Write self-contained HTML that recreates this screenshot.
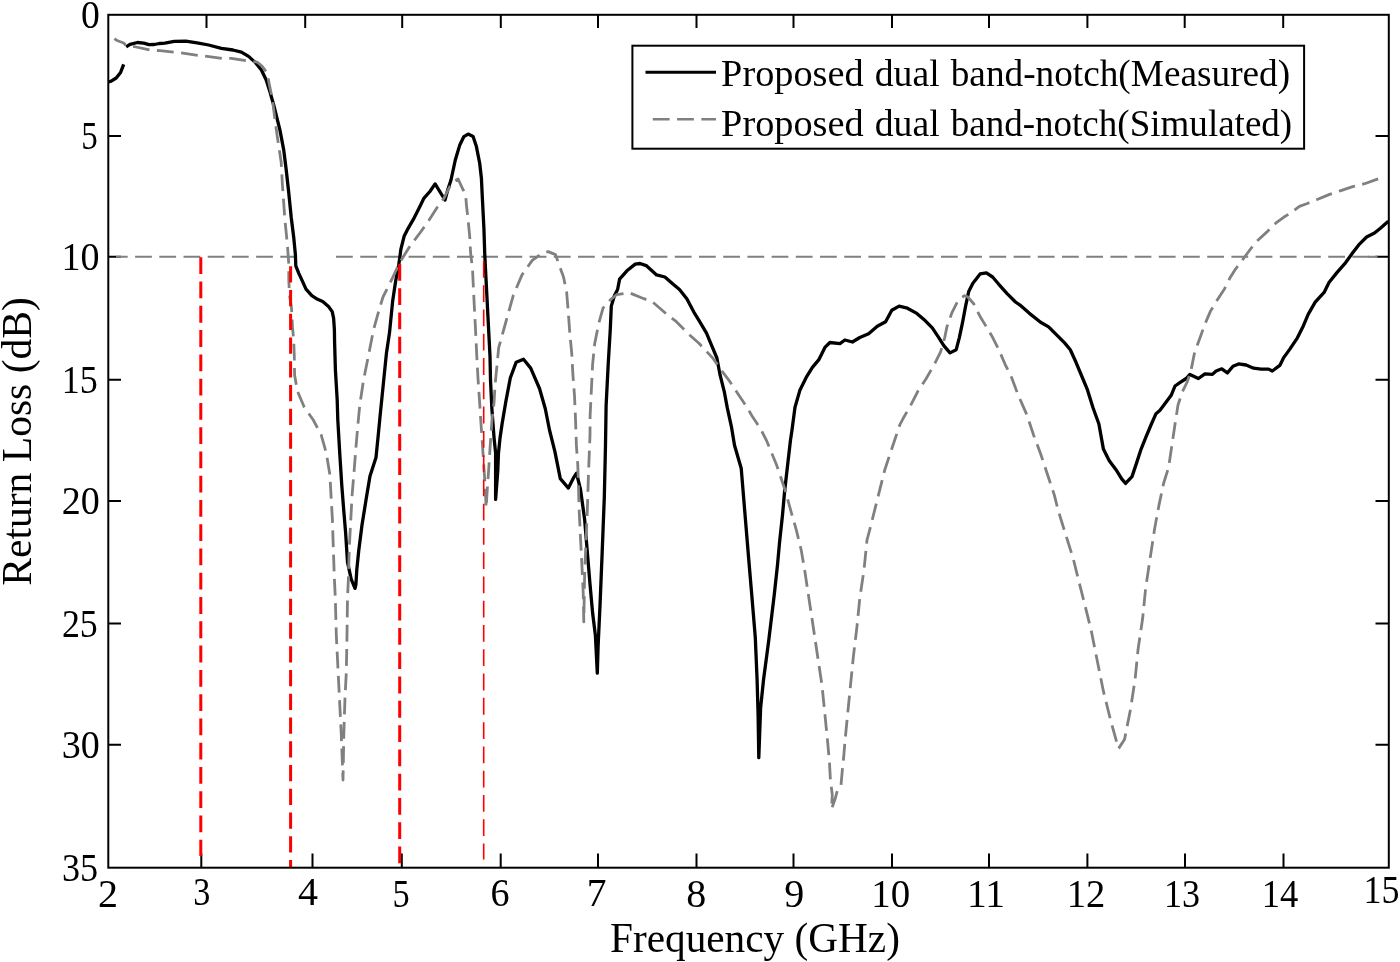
<!DOCTYPE html>
<html><head><meta charset="utf-8"><title>Return Loss vs Frequency</title>
<style>html,body{margin:0;padding:0;background:#fff;width:1400px;height:962px;overflow:hidden}svg{display:block;will-change:transform}text{font-family:"Liberation Serif",serif}</style>
</head><body>
<svg width="1400" height="962" viewBox="0 0 1400 962">
<rect x="0" y="0" width="1400" height="962" fill="#fff"/>
<path d="M201.3 867.7V853.5 M312.5 867.7V853.5 M401.8 867.7V853.5 M500.7 867.7V853.5 M598 867.7V853.5 M696.5 867.7V853.5 M793.5 867.7V853.5 M892 867.7V853.5 M989 867.7V853.5 M1087.4 867.7V853.5 M1185 867.7V853.5 M1283.5 867.7V853.5 M206.5 14.8V28 M305.2 14.8V28 M402.2 14.8V28 M500.8 14.8V28 M598 14.8V28 M696.5 14.8V28 M793.5 14.8V28 M892 14.8V28 M989 14.8V28 M1087.4 14.8V28 M1184.7 14.8V28 M1283.2 14.8V28 M108.3 135.9H121 M1388.8 135.9H1375.5 M108.3 256.8H121 M1388.8 256.8H1375.5 M108.3 379.7H121 M1388.8 379.7H1375.5 M108.3 500.9H121 M1388.8 500.9H1375.5 M108.3 623.4H121 M1388.8 623.4H1375.5 M108.3 744.7H121 M1388.8 744.7H1375.5" stroke="#000" stroke-width="2" fill="none"/>
<path d="M116 256.8H296" stroke="#808080" stroke-width="2.1" stroke-dasharray="16.8 7.4" stroke-dashoffset="5.1" fill="none"/>
<path d="M336 256.8H1377.4" stroke="#808080" stroke-width="2.1" stroke-dasharray="16.8 7.4" fill="none"/>
<path d="M1368 256.8H1377.4" stroke="#808080" stroke-width="2.1" fill="none"/>
<path d="M108.5 82.0 L111.2 81.2 L116.2 78.0 L120.6 72.4 L123.7 64.3" stroke="#000" stroke-width="3.3" fill="none" stroke-linejoin="round"/>
<path d="M126.2 46.8 L130.0 44.3 L137.4 42.5 L143.7 43.1 L149.0 44.6 L154.3 44.5 L159.3 43.5 L164.9 43.1 L174.3 41.4 L185.7 41.1 L197.1 42.9 L208.6 45.0 L221.4 48.3 L232.9 50.0 L241.4 52.1 L248.6 56.4 L255.7 62.9 L261.4 70.0 L266.2 80.0 L270.0 92.0 L273.7 105.0 L279.9 129.9 L283.7 149.9 L286.2 169.8 L288.7 192.3 L291.2 217.2 L293.7 237.2 L295.4 254.7 L295.8 265.8 L298.7 273.1 L302.4 281.1 L306.0 289.1 L311.8 295.6 L317.6 299.3 L322.7 301.5 L328.5 306.5 L332.2 311.6 L333.6 318.2 L334.4 329.8 L334.6 342.4 L335.4 369.8 L337.2 400.0 L337.8 420.0 L340.0 457.4 L341.8 485.5 L343.7 509.8 L345.6 532.3 L347.5 562.2 L351.2 579.1 L355.0 588.4 L355.9 584.7 L356.8 569.7 L358.7 551.0 L362.0 525.0 L366.0 500.0 L370.0 476.0 L376.0 457.5 L378.1 436.7 L380.1 415.9 L382.2 395.1 L384.3 374.3 L386.4 353.6 L389.5 332.8 L392.6 301.6 L395.7 280.8 L398.6 266.0 L400.0 256.0 L400.8 249.6 L404.1 236.3 L407.4 229.7 L413.2 219.7 L419.9 206.4 L424.0 198.1 L429.9 191.5 L435.1 183.9 L445.0 200.0 L448.0 189.0 L451.0 180.0 L455.3 160.0 L459.8 144.9 L463.9 136.6 L468.1 134.1 L473.1 136.6 L476.4 146.6 L479.7 163.2 L481.4 178.2 L482.2 194.8 L483.9 228.0 L484.7 253.0 L485.5 269.0 L487.0 298.2 L488.5 327.3 L490.0 356.4 L490.5 380.0 L491.9 409.1 L494.1 438.3 L495.6 452.8 L495.6 499.4 L497.8 470.3 L498.5 452.8 L500.0 438.3 L502.1 423.7 L505.8 401.8 L510.3 378.0 L516.2 362.2 L523.5 359.3 L530.7 368.1 L539.5 388.5 L545.3 408.8 L549.5 430.0 L554.9 451.6 L560.3 478.6 L568.4 488.1 L573.8 477.3 L576.5 473.2 L580.5 489.5 L584.6 519.2 L587.3 551.6 L590.0 584.1 L592.7 613.8 L595.4 635.4 L597.3 673.2 L598.1 646.2 L600.0 605.7 L602.2 551.6 L604.3 497.6 L605.5 445.0 L606.1 405.9 L608.2 364.3 L610.3 329.0 L611.3 306.1 L614.4 295.7 L617.6 289.5 L619.6 279.1 L626.9 270.8 L635.2 264.1 L640.0 263.5 L646.2 265.6 L656.6 274.9 L664.9 277.0 L673.2 284.3 L679.5 289.5 L686.8 298.8 L694.0 312.3 L700.3 322.7 L706.5 333.1 L711.7 345.6 L716.9 358.0 L720.0 374.7 L724.2 391.3 L727.3 407.9 L731.4 426.6 L734.5 445.3 L741.2 468.2 L744.7 510.6 L748.2 553.0 L751.8 595.3 L755.3 637.6 L757.1 680.0 L758.1 715.3 L758.8 757.6 L760.6 708.2 L763.5 680.0 L768.8 640.0 L774.3 594.4 L777.5 565.0 L779.5 542.9 L782.5 515.0 L784.6 491.5 L787.5 466.0 L790.5 440.0 L792.0 430.0 L795.0 407.3 L800.0 389.9 L806.2 377.4 L812.4 367.4 L818.7 359.9 L824.9 347.4 L829.9 342.5 L839.9 343.7 L844.9 340.0 L852.4 342.0 L859.8 337.5 L868.6 333.7 L877.3 326.2 L885.6 321.7 L891.8 310.3 L899.1 306.1 L907.4 308.2 L916.8 313.4 L925.1 320.6 L932.3 327.9 L938.6 337.3 L943.8 345.6 L950.0 352.9 L956.2 349.7 L959.4 337.3 L962.5 322.7 L965.6 306.1 L968.7 291.6 L972.9 283.2 L980.1 273.9 L986.4 272.9 L992.6 277.0 L998.8 284.3 L1007.1 293.6 L1015.5 302.0 L1020.0 305.1 L1029.1 313.1 L1040.6 322.3 L1048.6 326.9 L1056.6 334.9 L1064.6 342.9 L1070.3 349.7 L1076.0 362.3 L1081.7 376.0 L1087.4 389.7 L1093.1 408.0 L1098.9 424.0 L1103.4 449.1 L1109.1 460.6 L1116.0 469.7 L1121.7 478.9 L1125.6 483.4 L1132.0 476.6 L1136.6 462.9 L1141.1 449.1 L1145.7 437.7 L1151.4 424.0 L1156.0 413.7 L1160.0 410.3 L1165.6 402.8 L1171.2 395.3 L1175.0 386.0 L1180.6 382.2 L1186.2 378.5 L1189.9 374.4 L1198.4 378.5 L1204.9 373.8 L1212.4 374.4 L1216.1 371.0 L1221.8 368.8 L1227.4 372.9 L1233.0 366.3 L1238.6 363.9 L1246.1 365.0 L1253.6 368.2 L1261.1 369.1 L1268.6 369.1 L1272.3 371.0 L1279.8 365.4 L1283.5 357.9 L1289.5 349.6 L1297.4 337.8 L1303.3 325.9 L1308.3 314.1 L1315.2 302.2 L1324.1 292.4 L1329.0 282.5 L1336.9 272.6 L1344.8 263.7 L1352.7 252.8 L1358.7 244.9 L1366.6 237.0 L1374.5 233.1 L1380.4 228.2 L1388.3 221.2" stroke="#000" stroke-width="3.3" fill="none" stroke-linejoin="round"/>
<path d="M114.4 38.7 L117.0 40.5 L123.7 43.0 L125.6 45.0 L133.7 46.5 L149.9 50.0 L160.0 50.7 L174.3 52.1 L182.9 53.1 L198.6 55.4 L207.1 56.4 L222.9 58.6 L231.4 58.3 L246.4 60.7 L257.1 62.1 L262.0 66.0 L267.1 72.9 L269.3 84.3 L272.5 100.0 L275.0 120.0 L277.4 137.4 L281.2 162.3 L282.4 184.8 L284.9 219.7 L287.4 244.7 L288.8 264.6 L288.8 280.0 L289.5 295.0 L291.5 308.0 L292.5 327.4 L293.7 340.0 L294.3 356.0 L294.6 375.0 L297.4 391.0 L304.3 407.2 L313.3 420.0 L321.1 434.7 L326.1 452.2 L329.9 474.6 L331.1 497.1 L332.4 519.5 L333.4 551.0 L334.4 579.1 L335.3 597.8 L336.3 635.0 L338.8 685.0 L341.3 735.0 L343.0 780.0 L343.8 735.0 L345.0 697.5 L346.3 672.5 L347.0 635.0 L347.5 597.8 L348.4 579.1 L349.3 547.3 L350.8 519.2 L352.1 494.9 L354.0 472.4 L355.9 448.1 L357.8 425.6 L359.8 404.7 L363.6 379.8 L368.6 354.8 L373.5 329.9 L379.8 307.4 L383.0 297.0 L392.0 279.0 L400.0 262.0 L409.9 246.3 L419.9 233.0 L428.2 221.4 L437.3 207.3 L444.0 198.1 L451.5 183.2 L458.1 179.0 L463.1 189.8 L465.6 194.0 L466.4 204.8 L468.1 219.7 L469.7 236.3 L470.6 253.0 L472.5 269.1 L473.9 298.2 L475.4 327.3 L476.8 356.4 L478.1 380.0 L479.6 401.8 L481.0 423.7 L482.5 445.5 L483.9 467.4 L485.4 489.2 L486.1 508.1 L487.6 484.9 L489.0 464.5 L490.5 441.2 L491.9 420.8 L494.1 401.8 L495.0 385.5 L498.7 347.7 L506.0 321.5 L513.3 295.3 L522.0 274.9 L532.2 260.4 L542.4 253.1 L548.2 251.6 L555.5 254.6 L558.3 262.5 L563.5 277.0 L566.6 291.6 L568.3 312.4 L569.8 333.2 L571.8 354.0 L572.9 374.7 L574.5 395.5 L575.4 416.3 L576.4 445.4 L577.8 465.1 L579.2 511.1 L580.5 538.1 L581.9 565.1 L583.2 592.2 L583.8 621.9 L584.1 605.7 L584.6 575.9 L585.9 543.5 L587.3 511.1 L588.6 470.5 L590.0 435.4 L590.1 416.3 L591.6 385.1 L592.6 364.3 L594.7 343.6 L598.9 322.8 L603.0 308.2 L610.3 299.9 L616.5 294.7 L629.0 292.6 L641.5 297.8 L652.5 301.9 L667.0 314.4 L676.4 321.7 L689.9 335.2 L699.2 343.5 L712.7 358.0 L723.1 372.6 L729.4 380.9 L737.7 393.4 L746.0 405.8 L752.2 416.2 L760.5 428.7 L766.8 441.2 L776.5 464.7 L785.0 489.7 L791.2 512.1 L796.2 529.6 L801.2 550.0 L804.5 569.1 L808.9 598.1 L813.3 627.2 L817.6 656.3 L822.0 685.3 L824.9 714.4 L827.8 743.5 L829.5 763.0 L830.4 780.0 L832.3 795.0 L831.8 804.0 L831.5 809.0 L833.5 803.5 L835.4 798.0 L837.5 790.0 L841.0 785.0 L842.0 774.0 L842.6 767.0 L843.7 757.0 L845.0 741.0 L847.6 714.4 L850.5 685.3 L853.4 656.3 L856.9 627.2 L859.8 598.1 L864.1 569.1 L867.0 540.0 L869.8 529.6 L874.8 509.6 L879.8 489.7 L884.8 469.7 L889.8 454.7 L894.8 439.8 L899.8 424.8 L903.2 418.3 L910.5 405.8 L917.8 391.3 L926.1 378.8 L934.4 364.3 L940.6 351.8 L944.8 337.3 L946.9 326.9 L952.1 312.3 L958.3 299.9 L964.5 295.7 L967.7 296.8 L973.9 304.0 L980.1 316.5 L986.4 326.9 L992.6 337.3 L998.8 349.7 L1005.1 364.3 L1011.3 376.8 L1017.5 393.4 L1023.8 407.9 L1026.9 414.9 L1033.7 435.4 L1040.6 453.7 L1047.4 474.3 L1054.3 494.9 L1058.1 510.2 L1065.6 534.3 L1073.2 558.5 L1079.2 582.6 L1085.3 606.7 L1091.3 630.9 L1097.3 661.0 L1103.4 691.2 L1110.9 721.4 L1118.5 748.6 L1124.5 739.5 L1130.5 709.3 L1135.1 679.2 L1138.1 649.0 L1142.6 618.8 L1145.6 588.6 L1150.1 558.5 L1154.7 528.3 L1159.2 504.1 L1163.7 483.0 L1168.6 467.4 L1172.0 444.6 L1175.4 421.7 L1178.0 405.0 L1182.5 391.6 L1187.1 382.2 L1190.9 371.0 L1194.6 352.3 L1200.2 337.3 L1204.9 324.2 L1210.5 311.1 L1216.1 301.8 L1224.6 288.7 L1230.2 277.4 L1234.9 269.9 L1240.5 262.5 L1246.1 255.0 L1251.7 247.5 L1257.6 240.5 L1267.8 231.1 L1275.7 223.2 L1283.6 217.3 L1291.5 212.4 L1299.4 206.4 L1307.3 203.5 L1317.2 199.5 L1329.0 194.6 L1340.9 190.6 L1352.7 186.7 L1364.6 183.7 L1378.4 178.8" stroke="#808080" stroke-width="2.8" fill="none" stroke-dasharray="16.8 7.47" stroke-dashoffset="3.6" stroke-linejoin="round"/>
<g stroke="#ff0000" fill="none">
<path d="M200.8 257.3V856" stroke-width="3" stroke-dasharray="16.8 7.47"/>
<path d="M290.6 266.2V867" stroke-width="3" stroke-dasharray="16.4 7.35"/>
<path d="M399.7 264V867" stroke-width="3" stroke-dasharray="16.8 7.47"/>
<path d="M483.7 261V859.5" stroke-width="1.6" stroke-dasharray="16.8 7.47"/>
</g>
<rect x="108.3" y="14.8" width="1280.5" height="852.9" stroke="#000" stroke-width="2" fill="none"/>
<g font-family="Liberation Serif" font-size="40" fill="#000"><text transform="translate(98.00 906.5) scale(1.0000 1)">2</text><text transform="translate(193.29 905) scale(0.8529 1)">3</text><text transform="translate(297.90 904.5) scale(1.0000 1)">4</text><text transform="translate(392.38 906.9) scale(0.8588 1)">5</text><text transform="translate(490.59 906.4) scale(0.9529 1)">6</text><text transform="translate(586.64 906.4) scale(0.9875 1)">7</text><text transform="translate(686.20 906.9) scale(1.0000 1)">8</text><text transform="translate(784.30 906.9) scale(1.0000 1)">9</text><text transform="translate(871.31 906.9) scale(0.9714 1)">10</text><text transform="translate(966.95 906.9) scale(0.9875 1)">11</text><text transform="translate(1066.64 906.9) scale(0.9647 1)">12</text><text transform="translate(1163.99 906.6) scale(0.9029 1)">13</text><text transform="translate(1261.84 906.6) scale(0.9143 1)">14</text><text transform="translate(1363.50 902.9) scale(0.9000 1)">15</text><text transform="translate(81.02 27.7) scale(0.9412 1)">0</text><text transform="translate(81.25 148.7) scale(0.8235 1)">5</text><text transform="translate(61.49 269.9) scale(0.9514 1)">10</text><text transform="translate(61.80 392.9) scale(0.9000 1)">15</text><text transform="translate(61.80 513.7) scale(0.9514 1)">20</text><text transform="translate(61.91 636.6) scale(0.8973 1)">25</text><text transform="translate(61.80 757.9) scale(0.9514 1)">30</text><text transform="translate(61.89 880.8) scale(0.9027 1)">35</text></g>
<g font-family="Liberation Serif" fill="#000">
<text transform="translate(610.01 951.6) scale(0.9948 1)" font-size="41.5">Frequency (GHz)</text>
<text transform="translate(31 585.70) rotate(-90) scale(1.0014 1)" font-size="41.5">Return Loss (dB)</text>
</g>
<rect x="632.4" y="45.7" width="671.7" height="103" fill="#fff" stroke="#000" stroke-width="2"/>
<path d="M645.5 72.2H716" stroke="#000" stroke-width="3"/>
<path d="M652.8 119.3H716" stroke="#808080" stroke-width="2.6" stroke-dasharray="16.8 7.47"/>
<g font-family="Liberation Serif" fill="#000">
<text transform="translate(721.09 86.4) scale(1.0079 1)" font-size="38">Proposed</text>
<text transform="translate(874.71 86.4) scale(0.9921 1)" font-size="38">dual</text>
<text transform="translate(950.70 86.4) scale(0.9814 1)" font-size="38">band-notch(Measured)</text>
<text transform="translate(721.09 136.3) scale(1.0079 1)" font-size="38">Proposed</text>
<text transform="translate(874.71 136.3) scale(0.9921 1)" font-size="38">dual</text>
<text transform="translate(950.70 136.3) scale(0.9751 1)" font-size="38">band-notch(Simulated)</text>
</g>
</svg>
</body></html>
